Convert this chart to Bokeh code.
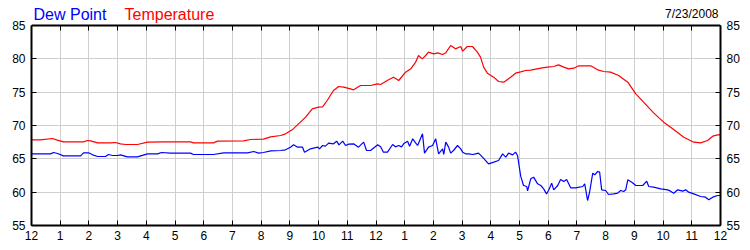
from bokeh.plotting import figure
from bokeh.models import Range1d, LinearAxis, Label, FixedTicker
from bokeh.embed import file_html
from bokeh.resources import INLINE

# ---- data ----
hour_ticks = list(range(25))
hour_labels = ["12", "1", "2", "3", "4", "5", "6", "7", "8", "9", "10", "11",
               "12", "1", "2", "3", "4", "5", "6", "7", "8", "9", "10", "11", "12"]
y_ticks = [55, 60, 65, 70, 75, 80, 85]
y_min, y_max = 55, 85
date_text = "7/23/2008"

temp_hours = [0.0, 0.31, 0.73, 0.9, 1.11, 1.81, 1.95, 2.06, 2.3, 2.75, 2.93, 3.1, 3.28, 3.69,
              4.04, 4.6, 4.84, 5.54, 5.64, 6.34, 6.48, 7.39, 7.63, 8.08, 8.33, 8.68, 8.85,
              9.08, 9.3, 9.55, 9.78, 10.0, 10.14, 10.3, 10.52, 10.7, 10.87, 11.11, 11.22,
              11.46, 11.81, 12.05, 12.16, 12.39, 12.61, 12.79, 13.03, 13.21, 13.38, 13.48,
              13.61, 13.73, 13.83, 14.01, 14.15, 14.32, 14.43, 14.6, 14.77, 14.95, 15.02,
              15.18, 15.36, 15.53, 15.64, 15.75, 15.88, 16.1, 16.27, 16.45, 16.69, 16.86,
              17.04, 17.21, 17.39, 17.74, 17.97, 18.19, 18.36, 18.54, 18.71, 18.89, 19.06,
              19.48, 19.72, 19.93, 20.17, 20.45, 20.77, 21.05, 21.32, 21.67, 22.02, 22.37,
              22.72, 23.07, 23.31, 23.55, 23.73, 23.9, 24.0]
temp_values = [67.85, 67.85, 68.05, 67.8, 67.55, 67.55, 67.75, 67.7, 67.4, 67.4, 67.45, 67.25,
               67.15, 67.15, 67.5, 67.55, 67.55, 67.55, 67.4, 67.4, 67.65, 67.7, 67.9, 67.95,
               68.3, 68.5, 68.75, 69.35, 70.25, 71.25, 72.5, 72.75, 72.8, 73.75, 75.25, 75.85,
               75.75, 75.5, 75.35, 76.0, 76.0, 76.25, 76.15, 76.75, 77.25, 76.75, 78.0, 78.5,
               79.5, 80.5, 80.0, 80.5, 81.0, 80.75, 80.9, 80.65, 80.9, 82.0, 81.5, 81.85,
               81.15, 81.85, 81.85, 81.0, 80.25, 78.75, 77.85, 77.25, 76.6, 76.5, 77.25,
               77.85, 78.05, 78.25, 78.3, 78.6, 78.75, 78.85, 79.1, 78.75, 78.5, 78.6, 78.95,
               78.95, 78.35, 78.1, 78.0, 77.5, 76.5, 74.75, 73.5, 71.9, 70.5, 69.4, 68.25,
               67.5, 67.4, 67.75, 68.4, 68.6, 68.6]

dew_hours = [0.0, 0.66, 0.77, 0.91, 1.11, 1.71, 1.81, 1.99, 2.13, 2.3, 2.58, 2.68, 2.82, 3.0,
             3.1, 3.34, 3.69, 4.04, 4.39, 4.53, 4.84, 5.54, 5.64, 6.34, 6.69, 7.53, 7.74,
             7.91, 8.08, 8.33, 8.68, 8.85, 9.02, 9.13, 9.27, 9.44, 9.51, 9.72, 9.97, 10.03,
             10.14, 10.24, 10.35, 10.52, 10.63, 10.71, 10.84, 10.94, 11.05, 11.22, 11.39,
             11.57, 11.67, 11.81, 12.06, 12.16, 12.26, 12.4, 12.58, 12.68, 12.79, 12.89,
             12.96, 13.1, 13.17, 13.28, 13.38, 13.45, 13.62, 13.69, 13.83, 13.97, 14.08,
             14.18, 14.32, 14.36, 14.43, 14.53, 14.6, 14.7, 14.84, 14.95, 15.02, 15.12,
             15.23, 15.37, 15.47, 15.57, 15.71, 15.92, 16.1, 16.27, 16.41, 16.52, 16.62,
             16.76, 16.86, 16.93, 17.04, 17.14, 17.25, 17.28, 17.39, 17.49, 17.63, 17.74,
             17.84, 17.94, 18.01, 18.12, 18.19, 18.33, 18.43, 18.54, 18.64, 18.78, 18.95,
             19.2, 19.27, 19.37, 19.44, 19.55, 19.62, 19.72, 19.79, 19.86, 20.0, 20.1,
             20.28, 20.42, 20.52, 20.63, 20.7, 20.77, 20.91, 21.05, 21.29, 21.43, 21.5,
             21.67, 21.92, 22.16, 22.26, 22.37, 22.51, 22.68, 22.79, 22.89, 23.07, 23.31,
             23.48, 23.59, 23.73, 23.9, 24.0]
dew_values = [65.75, 65.75, 65.95, 65.8, 65.45, 65.45, 65.9, 65.9, 65.6, 65.35, 65.35, 65.65,
              65.5, 65.5, 65.6, 65.3, 65.3, 65.75, 65.75, 65.95, 65.85, 65.85, 65.65, 65.65,
              65.9, 65.9, 66.1, 65.85, 65.95, 66.2, 66.25, 66.35, 66.75, 67.1, 66.75, 66.75,
              66.0, 66.5, 66.75, 66.5, 67.0, 66.9, 67.35, 67.25, 67.65, 67.1, 67.65, 67.0,
              67.2, 67.25, 66.75, 67.5, 66.25, 66.25, 67.1, 66.8, 66.0, 66.0, 67.15, 66.8,
              67.0, 66.8, 67.25, 67.65, 66.9, 68.0, 67.4, 67.0, 68.75, 65.85, 66.75, 67.0,
              68.0, 65.75, 66.5, 65.65, 67.5, 66.75, 65.85, 66.25, 67.0, 66.5, 66.0, 65.75,
              65.75, 65.65, 65.75, 65.85, 65.25, 64.25, 64.5, 64.75, 65.75, 65.25, 65.85,
              65.6, 66.0, 65.5, 62.4, 61.0, 60.85, 60.2, 62.0, 62.25, 61.25, 61.0, 60.5,
              59.75, 60.25, 61.35, 60.35, 61.0, 61.9, 61.6, 61.9, 60.65, 60.65, 60.85, 61.25,
              58.75, 60.0, 62.85, 62.6, 63.1, 63.0, 60.35, 60.25, 59.65, 59.75, 59.85, 60.25,
              60.1, 60.35, 61.85, 61.5, 61.0, 61.0, 61.65, 60.85, 60.75, 60.5, 60.35, 60.15,
              59.85, 60.35, 60.15, 60.35, 60.0, 59.75, 59.35, 59.25, 58.85, 59.25, 59.5, 59.5]

FONT = "Liberation Sans"

# The frame reaches the top of the canvas so the header texts are drawn inside it;
# the plotted area itself is bounded to 55..85 by axes/grid bounds.
PX_PER_UNIT = 200 / (y_max - y_min)
TOP_PAD = 25

p = figure(width=750, height=250, output_backend="svg", toolbar_location=None,
           x_range=Range1d(0, 24),
           y_range=Range1d(y_min, y_max + TOP_PAD / PX_PER_UNIT),
           min_border_left=31, min_border_right=30, min_border_top=0, min_border_bottom=25,
           x_axis_location=None, y_axis_location=None)
p.background_fill_color = "white"
p.border_fill_color = "white"
p.outline_line_color = None

p.xgrid.ticker = FixedTicker(ticks=hour_ticks)
p.ygrid.ticker = FixedTicker(ticks=y_ticks)
p.xgrid.cross_bounds = (y_min, y_max)
for g in (p.xgrid, p.ygrid):
    g.grid_line_color = "#cfcfcf"
    g.grid_line_width = 1

overrides = {h: lab for h, lab in zip(hour_ticks, hour_labels)}

def style(ax, show_labels=True):
    ax.axis_line_color = "black"
    ax.axis_line_width = 2
    ax.major_tick_in = 5
    ax.major_tick_out = 0
    ax.major_tick_line_color = "black"
    ax.major_tick_line_width = 1
    ax.minor_tick_line_color = None
    ax.major_label_text_font = FONT
    ax.major_label_text_font_size = "12px"
    ax.major_label_text_color = "black" if show_labels else None
    ax.major_label_standoff = 6

bottom = LinearAxis(ticker=FixedTicker(ticks=hour_ticks), major_label_overrides=overrides)
top = LinearAxis(ticker=FixedTicker(ticks=hour_ticks), fixed_location=y_max)
left = LinearAxis(ticker=FixedTicker(ticks=y_ticks), bounds=(y_min, y_max))
right = LinearAxis(ticker=FixedTicker(ticks=y_ticks), bounds=(y_min, y_max))
style(bottom)
style(top, show_labels=False)
style(left)
style(right)
bottom.major_label_standoff = 5
p.add_layout(bottom, "below")
p.add_layout(top, "above")
p.add_layout(left, "left")
p.add_layout(right, "right")

p.line(dew_hours, dew_values, line_color="#0000ff", line_width=1.2)
p.line(temp_hours, temp_values, line_color="#ff0000", line_width=1.2)

# screen units are measured from the frame's lower-left corner
p.add_layout(Label(x=2, y=211, x_units="screen", y_units="screen", text="Dew Point",
                   text_color="#0000ff", text_font=FONT, text_font_size="16px",
                   text_baseline="alphabetic"))
p.add_layout(Label(x=93, y=211, x_units="screen", y_units="screen", text="Temperature",
                   text_color="#ff0000", text_font=FONT, text_font_size="16px",
                   text_baseline="alphabetic"))
p.add_layout(Label(x=687, y=212, x_units="screen", y_units="screen", text=date_text,
                   text_color="black", text_font=FONT, text_font_size="12px",
                   text_align="right", text_baseline="alphabetic"))

open("out.html", "w").write(file_html(p, INLINE))
